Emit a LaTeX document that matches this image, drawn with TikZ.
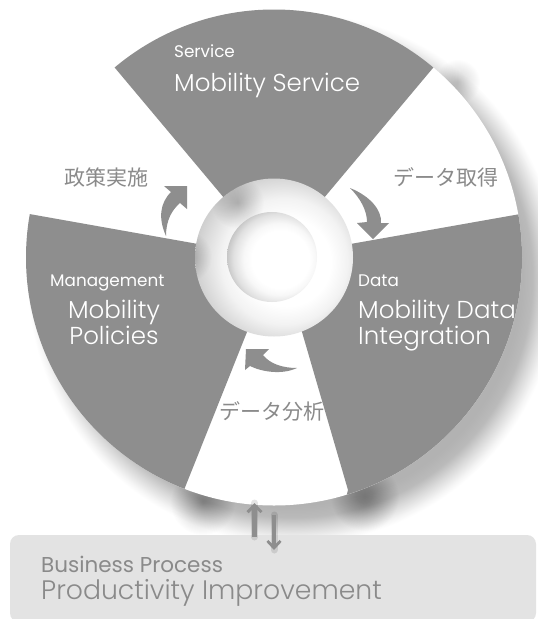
\documentclass[tikz,border=0pt]{standalone}
\usepackage{fontspec}
\usetikzlibrary{arrows.meta}
\setmainfont{Poppins}
\newfontfamily\jpfont{Noto Sans CJK JP}
\newfontfamily\lightfont{Poppins Light}
\definecolor{wedgegray}{HTML}{8E8E8E}
\definecolor{labelgray}{HTML}{8A8A8A}
\definecolor{boxgray}{HTML}{E3E3E3}
\pgfdeclareradialshading{dropshade}{\pgfpoint{0bp}{0bp}}{color(0bp)=(black!30);color(21.5bp)=(black!30);color(22.5bp)=(black!27);color(23.5bp)=(black!15);color(24.5bp)=(black!4);color(25bp)=(white);color(50bp)=(white)}
\pgfdeclareradialshading{hubshade}{\pgfpoint{5.5bp}{-2bp}}{color(0bp)=(white);color(14bp)=(white);color(20bp)=(black!5);color(25bp)=(black!14);color(31bp)=(black!25);color(50bp)=(black!25)}
\pgfdeclareradialshading{holeshade}{\pgfpoint{7bp}{-2bp}}{color(0bp)=(white);color(16bp)=(white);color(20bp)=(black!3);color(25bp)=(black!12);color(30bp)=(black!28);color(33bp)=(black!33);color(50bp)=(black!33)}
\tikzset{
  x=1pt,y=-1pt,
  wedge/.style={fill=wedgegray,draw=none},
  headw/.style={font=\fontsize{16.8}{18}\selectfont,text=white,anchor=base west,inner sep=0pt},
  bigw/.style={font=\lightfont\fontsize{24.5}{26}\selectfont,text=white,inner sep=0pt,align=center},
  jp/.style={font=\jpfont\fontsize{21}{24}\selectfont,text=labelgray,inner sep=0pt},
  flow/.style={fill=wedgegray,draw=none},
  haze/.style={draw=black,opacity=0.1,line width=7pt,line cap=round},
  uptick/.style={draw=wedgegray,line width=4.5pt,-{Straight Barb[length=7pt,width=14pt,line width=3pt]}},
  downtick/.style={draw=wedgegray,line width=3.2pt,-{Straight Barb[length=7pt,width=13pt,line width=2.8pt]}}
}
\begin{document}
\begin{tikzpicture}
\useasboundingbox (0,0) rectangle (538,619);
\fill[white] (0,0) rectangle (538,619);
% soft drop shadow
\shade[shading=dropshade] (293,278) circle (266);
\foreach \px/\py/\R in {365/497/34,203/503/32,458/82/22}{
  \foreach \r in {1,...,\R}{
    \fill[black,opacity=0.009] (\px,\py) circle (\r);
  }
}
% wheel
\coordinate (c) at (274,257.5);
\fill[white] (c) circle (248);
\begin{scope}
  \clip (c) circle (248);
  \fill[wedge] (c) -- (105,56) -- (274,-20) -- (443,56) -- cycle;
  \fill[wedge] (c) -- (560,207) -- (560,520) -- (340,520) -- (348,490) -- (302,332) -- cycle;
  \fill[wedge] (c) -- (-10,207) -- (-10,520) -- (178,520) -- (184,490) -- (247,332) -- cycle;
\end{scope}
% hub
\shade[shading=hubshade] (c) circle (79);
\begin{scope}
  \clip (c) circle (79);
  \foreach \px/\py in {186/257,238/203}{
    \foreach \r in {1,...,26}{
      \fill[black,opacity=0.007] (\px,\py) circle (\r);
    }
  }
\end{scope}
\shade[shading=holeshade] (272,257) circle (45);
% arrows in the ring
\fill[flow] (166,236) .. controls (158,218) and (160,203) .. (171,192) -- (164,186) -- (187,186) -- (187,209) -- (180,203) .. controls (172,210) and (166,220) .. (166,236) -- cycle;
\fill[flow] (350,188) .. controls (370,196) and (382,210) .. (381,223) -- (389,223) -- (373,239) -- (357,223) -- (367,222) .. controls (367,210) and (360,198) .. (350,188) -- cycle;
\fill[flow] (297,368) .. controls (282,375) and (262,372) .. (250,366) -- (245,370) -- (246,349) -- (269,349) -- (263,355) .. controls (270,364) and (283,368) .. (297,368) -- cycle;
% box
\fill[boxgray,rounded corners=9pt] (10,535) rectangle (536,622);
% up/down arrows
\coordinate (ua) at (254.5,537); \coordinate (ub) at (254.5,503);
\coordinate (da) at (274,515); \coordinate (db) at (274,550);
% labels
\node[headw] (svc) at (174,57) {Service};
\node[bigw,anchor=base west] (msvc) at (174,91) {Mobility Service};
\node[headw] (dat) at (358,286) {Data};
\node[bigw,anchor=north west,align=left] (mdi) at (358,300) {Mobility Data\\Integration};
\node[headw] (mgt) at (50,286) {Management};
\node[bigw,anchor=north] (mpol) at (114,300) {Mobility\\Policies};
\node[jp] (j1) at (106,177) {政策実施};
\node[jp] (j2) at (446,177) {データ取得};
\node[jp] (j3) at (272,411) {データ分析};
\node[inner sep=0pt,anchor=base west,text=labelgray,font=\fontsize{21.5}{24}\selectfont] (bp) at (41,572) {Business Process};
\node[inner sep=0pt,anchor=base west,text=labelgray,font=\lightfont\fontsize{26.7}{30}\selectfont] (pi) at (41,599) {Productivity Improvement};
\draw[haze] (ua) -- (ub);
\draw[haze] (da) -- (db);
\draw[uptick] (ua) -- (ub);
\draw[downtick] (da) -- (db);
\end{tikzpicture}
\end{document}
